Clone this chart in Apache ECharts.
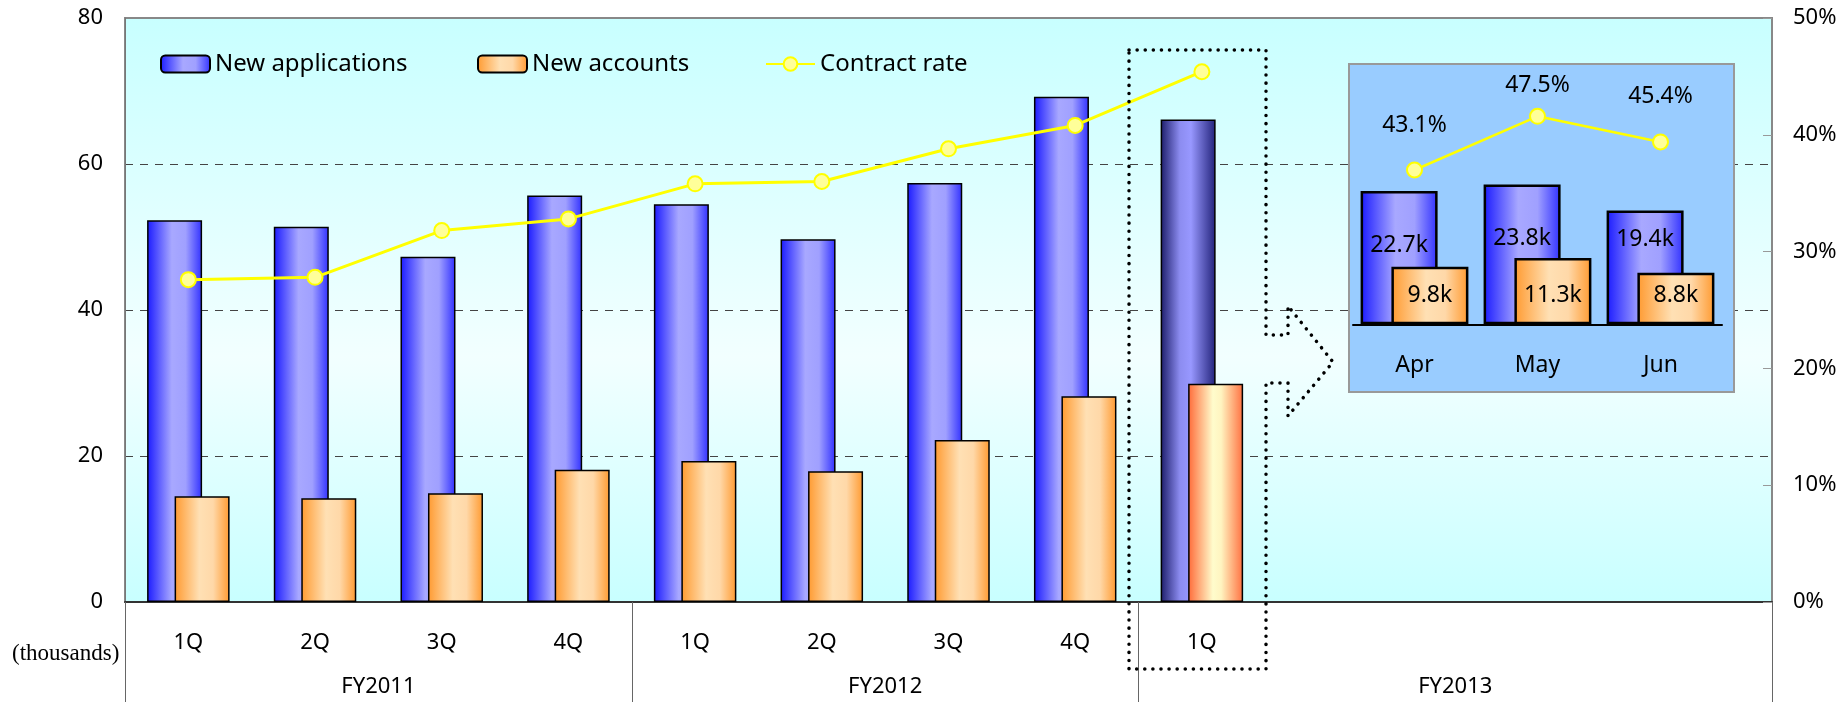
<!DOCTYPE html>
<html>
<head>
<meta charset="utf-8">
<title>New applications / New accounts</title>
<script src="https://cdn.jsdelivr.net/npm/echarts@6/dist/echarts.min.js"></script>
<style>
  html, body { margin: 0; padding: 0; background: #fff; }
  #main { width: 1847px; height: 702px; }
</style>
</head>
<body>
<div id="main"></div>
<script>
// quarters (the last 4 slots are empty room for the monthly inset)
var quarters = ['1Q', '2Q', '3Q', '4Q', '1Q', '2Q', '3Q', '4Q', '1Q', '', '', '', ''];
var fiscalYears = ['FY2011', 'FY2012', 'FY2013'];
var fiscalSpans = [4, 4, 5];   // quarter slots covered by each year

var newApplications = [52.3, 51.4, 47.3, 55.7, 54.5, 49.7, 57.4, 69.2, 66.1];
var newAccounts = [14.5, 14.2, 14.9, 18.1, 19.3, 17.9, 22.2, 28.2, 29.9];
var contractRate = [27.6, 27.8, 31.8, 32.8, 35.8, 36.0, 38.8, 40.8, 45.4];

var leftTicks = [0, 20, 40, 60, 80];
var rightTicks = [0, 10, 20, 30, 40, 50];

// monthly breakdown of FY2013 1Q
var months = ['Apr', 'May', 'Jun'];
var monthApplications = [22.7, 23.8, 19.4];
var monthAccounts = [9.8, 11.3, 8.8];
var monthRate = [43.1, 47.5, 45.4];

var font = 'Noto Sans';

function hGrad(stops) {
    return {
        type: 'linear', x: 0, y: 0, x2: 1, y2: 0,
        colorStops: stops.map(function (s) { return { offset: s[0], color: s[1] }; })
    };
}
var blueFill = hGrad([[0, '#1a1aff'], [0.45, '#a8a8ff'], [0.7, '#a0a0ff'], [1, '#3030ff']]);
var orangeFill = hGrad([[0, '#ff9a30'], [0.45, '#ffe0b4'], [0.7, '#ffd8a8'], [1, '#ff9a30']]);
var blueLast = hGrad([[0, '#1c1c6a'], [0.35, '#8c8cf0'], [0.55, '#9898ff'], [1, '#22227a']]);
var orangeLast = hGrad([[0, '#ff6a38'], [0.45, '#fffccc'], [0.6, '#fff4c0'], [1, '#ff7040']]);

// FY axis uses half-slot steps: 2 per quarter + 1
var fyAxis = [];
for (var i = 0; i <= quarters.length * 2; i++) fyAxis.push('');
var fyBounds = [0];
var start = 0;
fiscalYears.forEach(function (fy, k) {
    fyAxis[start * 2 + fiscalSpans[k]] = fy;
    start += fiscalSpans[k];
    fyBounds.push(start * 2);
});

var lastIdx = newApplications.length - 1;
var appData = newApplications.map(function (v, i) {
    return i === lastIdx ? { value: v, itemStyle: { color: blueLast } } : v;
});
var accData = newAccounts.map(function (v, i) {
    return i === lastIdx ? { value: v, itemStyle: { color: orangeLast } } : v;
});

var blueLabelDist = [43, 42, 18];
var lineLabelDist = [25, 11, 25];

var myChart = echarts.init(document.getElementById('main'));

var legendText = { fontSize: 24, fontFamily: font, color: '#000' };

var option = {
    animation: false,
    textStyle: { fontFamily: font, color: '#000' },
    legend: [
        { left: 160, top: 52, padding: 0, itemWidth: 49, itemHeight: 17, data: ['New applications'], textStyle: legendText },
        { left: 477, top: 52, padding: 0, itemWidth: 49, itemHeight: 17, data: ['New accounts'], textStyle: legendText },
        { left: 765, top: 52, padding: 0, itemWidth: 49, itemHeight: 17, data: ['Contract rate'], textStyle: legendText }
    ],
    grid: [
        {
            left: 125, right: 75, top: 18, bottom: 100,
            show: true,
            borderColor: '#888', borderWidth: 2,
            backgroundColor: {
                type: 'linear', x: 0, y: 0, x2: 0, y2: 1,
                colorStops: [
                    { offset: 0, color: '#c8ffff' },
                    { offset: 0.58, color: '#f2ffff' },
                    { offset: 1, color: '#c8ffff' }
                ]
            }
        },
        { left: 1353, top: 89.5, width: 369, height: 234.8 }
    ],
    xAxis: [
        {
            type: 'category', gridIndex: 0, data: quarters,
            axisLine: { lineStyle: { color: '#333', width: 2 } },
            axisTick: { show: false },
            axisLabel: { interval: 0, margin: 30, fontSize: 22, color: '#000', fontFamily: font }
        },
        {
            type: 'category', gridIndex: 0, data: fyAxis, boundaryGap: false, position: 'bottom',
            axisLine: { show: false },
            axisTick: {
                show: true, length: 100, inside: false,
                interval: function (idx) { return fyBounds.indexOf(idx) >= 0; },
                lineStyle: { color: '#666', width: 1 }
            },
            axisLabel: { interval: 0, margin: 74, fontSize: 22, color: '#000', fontFamily: font }
        },
        {
            type: 'category', gridIndex: 1, data: months, z: 5,
            axisLine: { lineStyle: { color: '#000', width: 2 } },
            axisTick: { show: false },
            axisLabel: { margin: 30, fontSize: 23, color: '#000', fontFamily: font }
        }
    ],
    yAxis: [
        {
            type: 'value', gridIndex: 0, min: leftTicks[0], max: leftTicks[leftTicks.length - 1],
            interval: leftTicks[1] - leftTicks[0],
            axisLine: { show: true, lineStyle: { color: '#777', width: 1 } },
            axisTick: { show: false },
            axisLabel: { margin: 22, fontSize: 22, color: '#000', fontFamily: font },
            splitLine: {
                show: true, showMinLine: false, showMaxLine: false,
                lineStyle: { color: '#444', type: [8, 7], width: 1 }
            }
        },
        {
            type: 'value', gridIndex: 0, position: 'right',
            min: rightTicks[0], max: rightTicks[rightTicks.length - 1],
            interval: rightTicks[1] - rightTicks[0],
            axisLine: { show: true, lineStyle: { color: '#888', width: 2 } },
            axisTick: { show: true, inside: true, length: 9, lineStyle: { color: '#999' } },
            axisLabel: { margin: 21, fontSize: 22, color: '#000', fontFamily: font, formatter: '{value}%' },
            splitLine: { show: false }
        },
        { type: 'value', gridIndex: 1, min: 0, max: 40, show: false },
        { type: 'value', gridIndex: 1, min: 30.45, max: 49.7, show: false }
    ],
    series: [
        {
            name: 'New applications', type: 'bar', xAxisIndex: 0, yAxisIndex: 0,
            barWidth: 55, barGap: '-50%',
            itemStyle: { color: blueFill, borderColor: '#000', borderWidth: 1.5 },
            data: appData
        },
        {
            name: 'New accounts', type: 'bar', xAxisIndex: 0, yAxisIndex: 0,
            barWidth: 55, barGap: '-50%',
            itemStyle: { color: orangeFill, borderColor: '#000', borderWidth: 1.5 },
            data: accData
        },
        {
            name: 'Contract rate', type: 'line', xAxisIndex: 0, yAxisIndex: 1, z: 4,
            symbol: 'circle', symbolSize: 15,
            lineStyle: { color: '#ffff00', width: 3 },
            itemStyle: { color: '#ffff99', borderColor: '#ffff00', borderWidth: 2 },
            data: contractRate
        },
        {
            name: 'New applications', type: 'bar', xAxisIndex: 2, yAxisIndex: 2, z: 6,
            barWidth: 77, barGap: '-60%',
            itemStyle: { color: blueFill, borderColor: '#000', borderWidth: 2.5 },
            label: { show: true, position: 'insideTop', fontSize: 23, color: '#000', fontFamily: font, formatter: '{c}k' },
            data: monthApplications.map(function (v, i) {
                return { value: v, label: { distance: blueLabelDist[i] } };
            })
        },
        {
            name: 'New accounts', type: 'bar', xAxisIndex: 2, yAxisIndex: 2, z: 6,
            barWidth: 77, barGap: '-60%',
            itemStyle: { color: orangeFill, borderColor: '#000', borderWidth: 2.5 },
            label: { show: true, position: 'insideBottom', distance: 17, fontSize: 23, color: '#000', fontFamily: font, formatter: '{c}k' },
            data: monthAccounts
        },
        {
            name: 'Contract rate', type: 'line', xAxisIndex: 2, yAxisIndex: 3, z: 7,
            symbol: 'circle', symbolSize: 15,
            lineStyle: { color: '#ffff00', width: 2.5 },
            itemStyle: { color: '#ffff99', borderColor: '#ffff00', borderWidth: 2 },
            label: { show: true, position: 'top', fontSize: 23, color: '#000', fontFamily: font, formatter: '{c}%' },
            data: monthRate.map(function (v, i) {
                return { value: v, label: { distance: lineLabelDist[i] } };
            })
        }
    ],
    graphic: [
        {
            type: 'rect', z: 1,
            shape: { x: 1349, y: 64, width: 385, height: 328 },
            style: { fill: '#99ccff', stroke: '#999', lineWidth: 2 }
        },
        {
            type: 'polygon', z: 10,
            shape: {
                points: [[1129, 50], [1266, 50], [1266, 335], [1288, 335], [1288, 306], [1333, 362],
                         [1288, 416], [1288, 383], [1266, 383], [1266, 669], [1129, 669]]
            },
            style: { fill: null, stroke: '#000', lineWidth: 3.5, lineDash: [0.1, 8], lineCap: 'round' }
        },
        {
            type: 'text', left: 12, top: 642, z: 10,
            style: { text: '(thousands)', font: '23px "Liberation Serif"', fill: '#000' }
        }
    ]
};

myChart.setOption(option);
</script>
</body>
</html>
